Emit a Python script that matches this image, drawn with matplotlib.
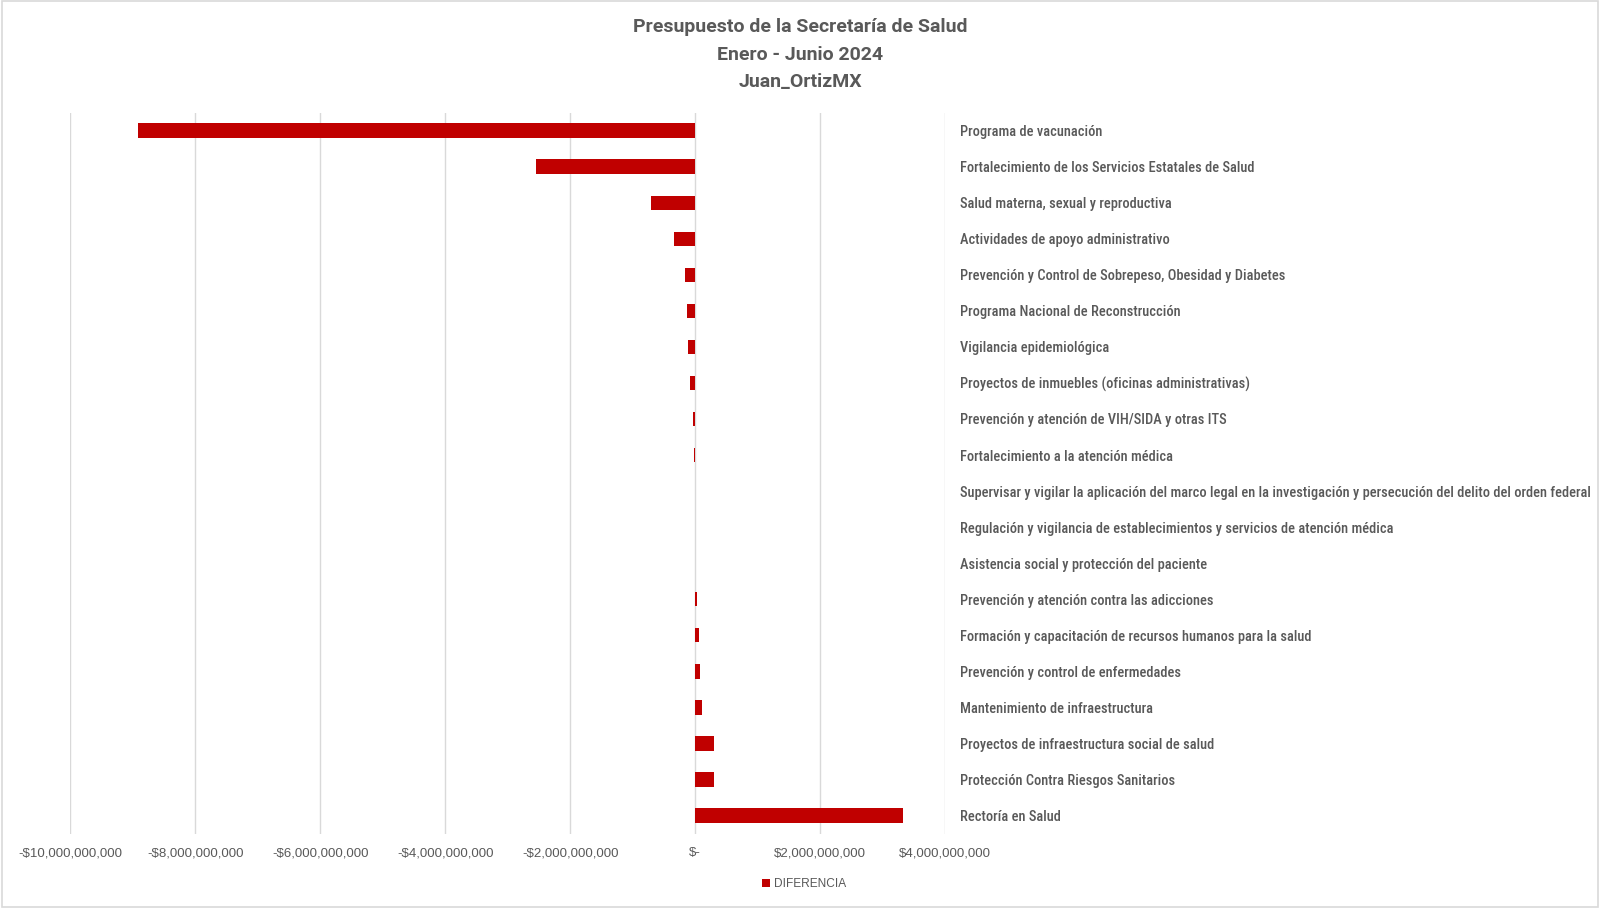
import matplotlib
matplotlib.use("Agg")
import matplotlib.pyplot as plt
from matplotlib.ticker import FuncFormatter
from matplotlib.patches import Rectangle

categories = [
    "Programa de vacunación",
    "Fortalecimiento de los Servicios Estatales de Salud",
    "Salud materna, sexual y reproductiva",
    "Actividades de apoyo administrativo",
    "Prevención y Control de Sobrepeso, Obesidad y Diabetes",
    "Programa Nacional de Reconstrucción",
    "Vigilancia epidemiológica",
    "Proyectos de inmuebles (oficinas administrativas)",
    "Prevención y atención de VIH/SIDA y otras ITS",
    "Fortalecimiento a la atención médica",
    "Supervisar y vigilar la aplicación del marco legal en la investigación y persecución del delito del orden federal",
    "Regulación y vigilancia de establecimientos y servicios de atención médica",
    "Asistencia social y protección del paciente",
    "Prevención y atención contra las adicciones",
    "Formación y capacitación de recursos humanos para la salud",
    "Prevención y control de enfermedades",
    "Mantenimiento de infraestructura",
    "Proyectos de infraestructura social de salud",
    "Protección Contra Riesgos Sanitarios",
    "Rectoría en Salud",
]
diferencia = [
    -8.91e9, -2.55e9, -0.70e9, -0.336e9, -0.165e9, -0.128e9, -0.106e9,
    -0.080e9, -0.026e9, -0.010e9, -0.008e9, -0.008e9, 0.006e9, 0.030e9,
    0.064e9, 0.075e9, 0.110e9, 0.300e9, 0.310e9, 3.33e9,
]
x_ticks = [-10e9, -8e9, -6e9, -4e9, -2e9, 0, 2e9, 4e9]
title_lines = ["Presupuesto de la Secretaría de Salud", "Enero - Junio 2024", "Juan_OrtizMX"]
series_name = "DIFERENCIA"

TICKF = ["Liberation Sans", "DejaVu Sans"]
CATF = ["Roboto Condensed", "DejaVu Sans"]
TITF = ["Roboto", "DejaVu Sans"]

TXT = "#595959"
BAR = "#C00000"
GRID = "#D9D9D9"

fig = plt.figure(figsize=(16, 9.08), dpi=100)
ax = fig.add_axes([0.044, 0.082, 0.5466, 0.794])

y = list(range(len(categories)))
ax.barh(y, diferencia, height=0.4, color=BAR, zorder=3, label=series_name)
ax.set_ylim(len(categories) - 0.5, -0.5)
ax.set_xlim(-10e9, 4e9)
ax.set_xticks(x_ticks)

def fmt(v, pos):
    if abs(v) < 1:
        return "$-"
    s = "${:,.0f}".format(abs(v))
    return "-" + s if v < 0 else s

ax.xaxis.set_major_formatter(FuncFormatter(fmt))
ax.grid(axis="x", color=GRID, linewidth=1, zorder=0)
ax.tick_params(axis="x", length=0, pad=10, labelsize=9.5, labelcolor=TXT)
for lab in ax.get_xticklabels():
    lab.set_family(TICKF)

ax.yaxis.tick_right()
ax.set_yticks(y)
ax.set_yticklabels(categories, family=CATF, fontweight="medium", fontsize=10.4, color=TXT)
ax.tick_params(axis="y", length=0, pad=11)
for s in ["top", "bottom", "left", "right"]:
    ax.spines[s].set_visible(False)

for i, line in enumerate(title_lines):
    fig.text(0.5, 1 - (27 + 27.5 * i) / 908, line, ha="center", va="center",
             fontsize=14, fontweight="bold", color=TXT, family=TITF)

leg = fig.legend(loc="center", bbox_to_anchor=(804 / 1600, 1 - 884 / 908), frameon=False,
                 handlelength=0.7, handleheight=0.7, handletextpad=0.3,
                 prop={"family": TICKF, "size": 8.6})
for t in leg.get_texts():
    t.set_color(TXT)

fig.patches.append(Rectangle((0.001, 0.001), 0.998, 0.998, transform=fig.transFigure,
                             fill=False, edgecolor="#D9D9D9", linewidth=1.2))

fig.savefig("out.png", dpi=100, facecolor="white")
